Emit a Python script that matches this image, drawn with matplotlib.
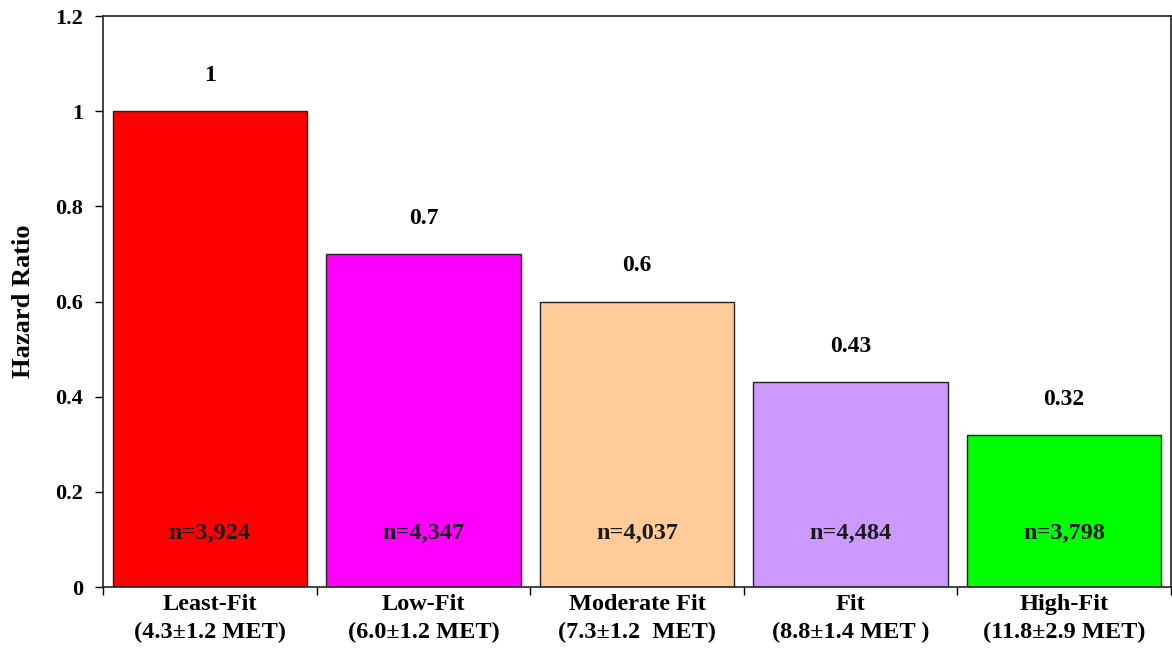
import matplotlib
matplotlib.use("Agg")
import matplotlib.pyplot as plt
from matplotlib.ticker import FixedLocator, NullFormatter

plt.rcParams['font.family'] = ['Liberation Serif', 'DejaVu Serif']
plt.rcParams['font.weight'] = 'bold'

categories = ["Least-Fit\n(4.3\u00b11.2 MET)", "Low-Fit\n(6.0\u00b11.2 MET)",
              "Moderate Fit\n(7.3\u00b11.2  MET)", "Fit\n(8.8\u00b11.4 MET )",
              "High-Fit\n(11.8\u00b12.9 MET)"]
hazard_ratio = [1, 0.7, 0.6, 0.43, 0.32]
value_labels = ["1", "0.7", "0.6", "0.43", "0.32"]
sample_sizes = ["n=3,924", "n=4,347", "n=4,037", "n=4,484", "n=3,798"]
bar_colors = ["#FF0000", "#FF00FF", "#FFCC99", "#CC99FF", "#00FF00"]
y_ticks = [0, 0.2, 0.4, 0.6, 0.8, 1, 1.2]
y_tick_labels = ["0", "0.2", "0.4", "0.6", "0.8", "1", "1.2"]

fig = plt.figure(figsize=(11.72, 6.51), dpi=100)
ax = fig.add_axes([0.0879, 0.0983, 0.9112, 0.8771])

x = list(range(len(categories)))
ax.bar(x, hazard_ratio, width=0.91, color=bar_colors, edgecolor="#222222", linewidth=1.0)

for xi, v, lab in zip(x, hazard_ratio, value_labels):
    ax.text(xi, v + 0.075, lab, ha="center", va="center", fontsize=17, fontweight="bold")
for xi, n in zip(x, sample_sizes):
    ax.text(xi, 0.113, n, ha="center", va="center", fontsize=17.5, fontweight="bold", color="#1a1a1a")

ax.set_xlim(-0.5, len(categories) - 0.5)
ax.set_ylim(0, 1.2)

ax.set_yticks(y_ticks)
ax.set_yticklabels(y_tick_labels, fontsize=16, fontweight="bold")
ax.tick_params(axis="y", direction="out", length=6, width=1, pad=8.5)

# category boundaries carry the tick marks; labels sit at the centres
ax.xaxis.set_major_locator(FixedLocator([i - 0.5 for i in range(len(categories) + 1)]))
ax.xaxis.set_major_formatter(NullFormatter())
ax.xaxis.set_minor_locator(FixedLocator(x))
ax.set_xticklabels(categories, minor=True, fontsize=17.5, fontweight="bold", linespacing=1.4)
ax.tick_params(axis="x", which="minor", length=0, pad=5)
ax.tick_params(axis="x", which="major", direction="out", length=6, width=1)

ax.set_ylabel("Hazard Ratio", fontsize=19, fontweight="bold")
ax.yaxis.set_label_coords(-0.064, 0.5)

for s in ax.spines.values():
    s.set_linewidth(1.2)
    s.set_color("#222222")

fig.savefig("out.png", dpi=100, facecolor="white")
